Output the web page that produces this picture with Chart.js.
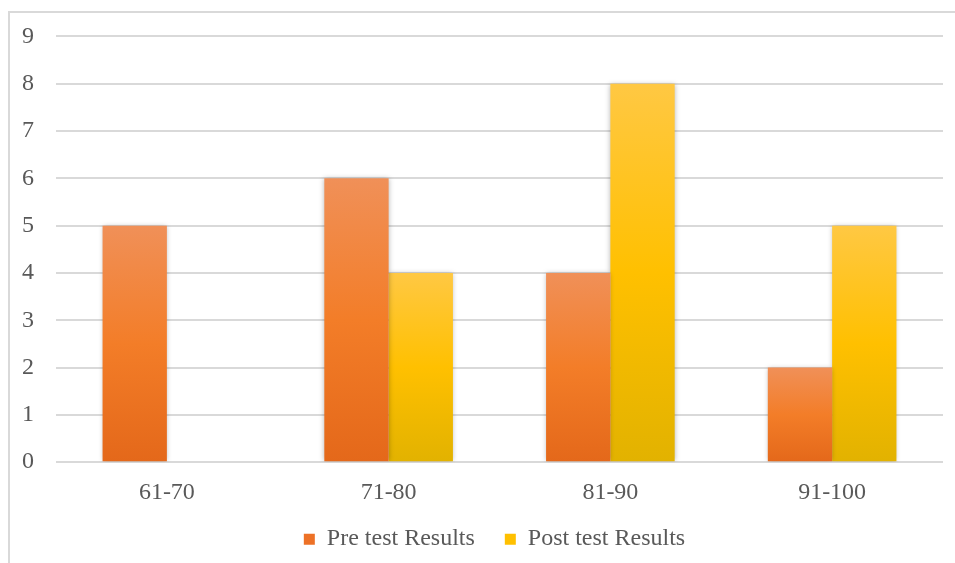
<!DOCTYPE html>
<html>
<head>
<meta charset="utf-8">
<script src="https://cdn.jsdelivr.net/npm/chart.js@4.4.1/dist/chart.umd.min.js"></script>
<style>
  html, body { margin: 0; padding: 0; background: #ffffff; }
  #wrap { position: relative; width: 955px; height: 563px; overflow: hidden; }
  #frame {
    position: absolute; left: 8px; top: 11px; width: 960px; height: 570px;
    border-left: 2px solid #d9d9d9; border-top: 2px solid #d9d9d9;
  }
  canvas { position: absolute; left: 0; top: 0; }
</style>
</head>
<body>
<div id="wrap">
  <div id="frame"></div>
  <canvas id="chart" width="955" height="563"></canvas>
</div>
<script>
const categories = ['61-70', '71-80', '81-90', '91-100'];
const preTest = [5, 6, 4, 2];
const postTest = [0, 4, 8, 5];
const yTicks = [0, 1, 2, 3, 4, 5, 6, 7, 8, 9];

const FONT = "'Liberation Serif', 'Times New Roman', serif";
const TEXT = '#595959';

// Per-bar vertical gradient: lighter at the top, deeper at the base.
function barGradient(stops) {
  return function (ctx) {
    const chart = ctx.chart;
    const y = chart.scales && chart.scales.y;
    if (!chart.chartArea || !y || ctx.raw === undefined) return stops[1];
    const top = y.getPixelForValue(ctx.raw);
    const base = y.getPixelForValue(0);
    if (Math.abs(base - top) < 1) return stops[1];
    const g = chart.ctx.createLinearGradient(0, top, 0, base);
    g.addColorStop(0, stops[0]);
    g.addColorStop(0.5, stops[1]);
    g.addColorStop(1, stops[2]);
    return g;
  };
}

// Soft drop shadow under the bars.
const barShadow = {
  id: 'barShadow',
  beforeDatasetDraw(chart) {
    const c = chart.ctx;
    c.save();
    c.shadowColor = 'rgba(0,0,0,0.28)';
    c.shadowBlur = 5;
    c.shadowOffsetX = 0;
    c.shadowOffsetY = 0;
  },
  afterDatasetDraw(chart) {
    chart.ctx.restore();
  }
};

// Centre the legend under the plot area and place it below the axis labels.
const legendOffset = {
  id: 'legendOffset',
  afterLayout(chart) {
    const lg = chart.legend;
    if (!lg) return;
    const dx = 23;
    lg.left += dx; lg.right += dx;
    lg.top = chart.chartArea.bottom + 35;
    lg.bottom = lg.top + 70;
  }
};

new Chart(document.getElementById('chart'), {
  type: 'bar',
  data: {
    labels: categories,
    datasets: [
      {
        label: 'Pre test Results',
        data: preTest,
        backgroundColor: barGradient(['#F09058', '#F37D28', '#E4681A']),
        legendColor: '#ED7126'
      },
      {
        label: 'Post test Results',
        data: postTest,
        backgroundColor: barGradient(['#FFC843', '#FFC000', '#E2B200']),
        legendColor: '#FFC000'
      }
    ]
  },
  plugins: [barShadow, legendOffset],
  options: {
    responsive: false,
    animation: false,
    devicePixelRatio: 1,
    layout: { padding: { left: 0, right: 12, top: 25, bottom: 3 } },
    datasets: {
      bar: { categoryPercentage: 0.58, barPercentage: 1.0, borderWidth: 0 }
    },
    scales: {
      x: {
        grid: { display: false, drawTicks: false },
        border: { display: false },
        ticks: { color: TEXT, font: { family: FONT, size: 24 }, padding: 16 }
      },
      y: {
        min: 0,
        max: 9,
        afterBuildTicks(axis) { axis.ticks = yTicks.map(v => ({ value: v })); },
        grid: { color: '#d9d9d9', lineWidth: 2, drawTicks: false },
        border: { display: false },
        ticks: { color: TEXT, font: { family: FONT, size: 24 }, padding: 22 },
        afterFit(scale) { scale.width = 56; }
      }
    },
    plugins: {
      tooltip: { enabled: false },
      legend: {
        position: 'bottom',
        maxHeight: 37,
        labels: {
          color: TEXT,
          font: { family: FONT, size: 24 },
          boxWidth: 11,
          boxHeight: 11,
          padding: 30,
          generateLabels(chart) {
            return chart.data.datasets.map((ds, i) => ({
              text: ds.label,
              fillStyle: ds.legendColor,
              strokeStyle: ds.legendColor,
              lineWidth: 0,
              fontColor: TEXT,
              datasetIndex: i,
              hidden: false
            }));
          }
        }
      }
    }
  }
});
</script>
</body>
</html>
